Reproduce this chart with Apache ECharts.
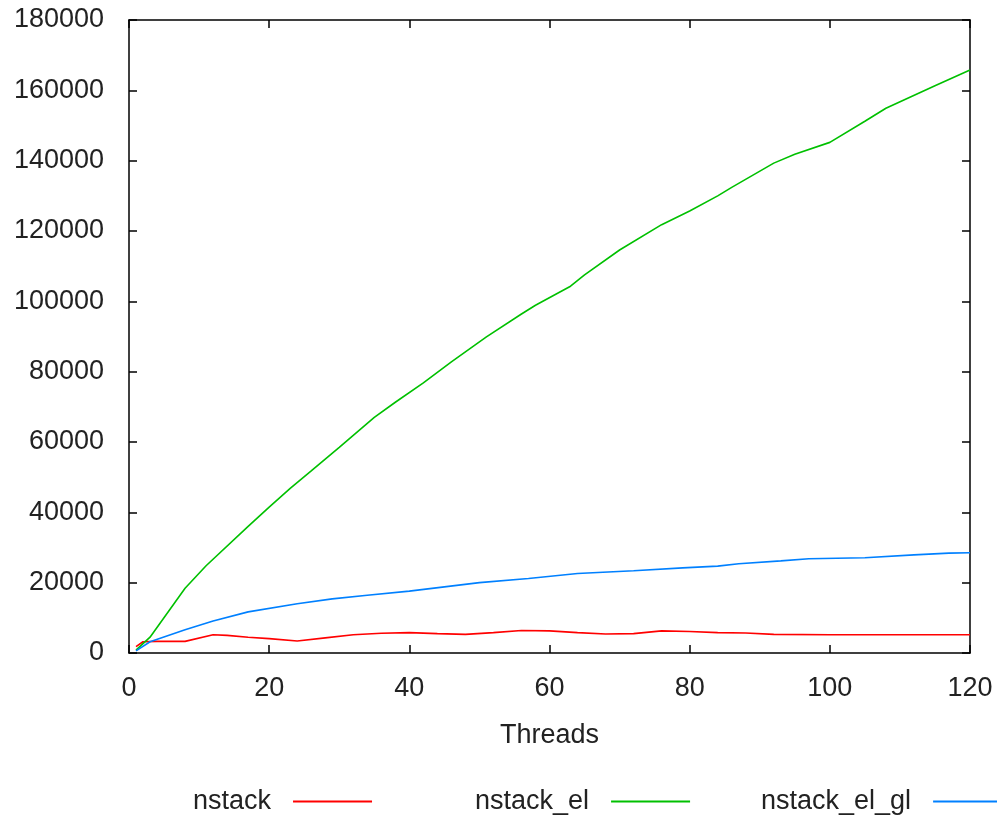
<!DOCTYPE html>
<html>
<head>
<meta charset="utf-8">
<script src="https://cdn.jsdelivr.net/npm/echarts@6/dist/echarts.min.js"></script>
<style>
  html, body { margin: 0; padding: 0; background: #ffffff; }
  #chart { width: 997px; height: 817px; }
</style>
</head>
<body>
<div id="chart"></div>
<script>
// ---- Data ----
const seriesNames = ['nstack', 'nstack_el', 'nstack_el_gl'];

const nstackX = [1, 2, 4, 8, 12, 14, 17, 20, 24, 28, 32, 36, 40, 44, 48, 52, 56, 60, 64, 68, 72, 76, 80, 84, 88, 92, 100, 110, 120];
const nstackY = [1800, 3200, 3300, 3300, 5200, 5000, 4500, 4100, 3400, 4300, 5200, 5600, 5800, 5500, 5300, 5800, 6400, 6300, 5800, 5400, 5500, 6300, 6100, 5800, 5700, 5300, 5200, 5200, 5200];

const nstackElX = [1, 3, 8, 11, 17, 20, 23, 26, 30, 35, 38, 42, 46, 51, 56, 58, 63, 65, 70, 76, 80, 84, 86, 92, 95, 100, 105, 108, 115, 120];
const nstackElY = [800, 4500, 18400, 24800, 36000, 41500, 46800, 51800, 58500, 67000, 71300, 76800, 82800, 89900, 96400, 98900, 104300, 107500, 114600, 121800, 125700, 130000, 132400, 139300, 141800, 145200, 151200, 154900, 161300, 165800];

const nstackElGlX = [1, 3, 8, 12, 17, 24, 29, 34, 40, 45, 50, 57, 64, 72, 79, 84, 87, 93, 97, 105, 112, 117, 120];
const nstackElGlY = [600, 3200, 6600, 9100, 11700, 14000, 15400, 16400, 17600, 18800, 20000, 21200, 22600, 23400, 24200, 24700, 25400, 26200, 26800, 27100, 27900, 28400, 28500];

const xTicks = [0, 20, 40, 60, 80, 100, 120];
const yTicks = [0, 20000, 40000, 60000, 80000, 100000, 120000, 140000, 160000, 180000];
const xAxisTitle = 'Threads';

// ---- Styles ----
const colors = ['#ff0000', '#00c000', '#0080ff'];
const FONT = '"Liberation Sans", Arial, sans-serif';
const TEXT_COLOR = '#222222';
const FS = 27;

function pairs(xs, ys) { return xs.map((x, i) => [x, ys[i]]); }

const chart = echarts.init(document.getElementById('chart'), null, { renderer: 'canvas' });

const axisLineStyle = { show: true, onZero: false, lineStyle: { color: '#000', width: 1.5 } };
const tickStyle = { show: true, inside: true, length: 8, lineStyle: { color: '#000', width: 1.5 } };

const xMin = xTicks[0], xMax = xTicks[xTicks.length - 1];
const xInt = xTicks[1] - xTicks[0];
const yMin = yTicks[0], yMax = yTicks[yTicks.length - 1];
const yInt = yTicks[1] - yTicks[0];

function legendFor(i, left) {
  return {
    data: [seriesNames[i]],
    left: left,
    top: 783,
    orient: 'horizontal',
    align: 'right',
    icon: 'rect',
    itemWidth: 79,
    itemHeight: 2,
    selectedMode: false,
    textStyle: { fontFamily: FONT, fontSize: FS, color: TEXT_COLOR, padding: [0, 17, 0, 0] }
  };
}

const option = {
  animation: false,
  backgroundColor: '#ffffff',
  color: colors,
  grid: { left: 129, right: 27, top: 20, bottom: 164, containLabel: false },
  legend: [legendFor(0, 188), legendFor(1, 470), legendFor(2, 756)],
  xAxis: [
    {
      type: 'value', position: 'bottom', min: xMin, max: xMax, interval: xInt,
      name: xAxisTitle, nameLocation: 'middle', nameGap: 69,
      nameTextStyle: { fontFamily: FONT, fontSize: FS, color: TEXT_COLOR },
      axisLine: axisLineStyle, axisTick: tickStyle,
      axisLabel: { fontFamily: FONT, fontSize: FS, color: TEXT_COLOR, margin: 22, formatter: v => String(v) },
      splitLine: { show: false }
    },
    {
      type: 'value', position: 'top', min: xMin, max: xMax, interval: xInt,
      axisLine: axisLineStyle, axisTick: tickStyle,
      axisLabel: { show: false }, splitLine: { show: false }
    }
  ],
  yAxis: [
    {
      type: 'value', position: 'left', min: yMin, max: yMax, interval: yInt,
      axisLine: axisLineStyle, axisTick: tickStyle,
      axisLabel: { fontFamily: FONT, fontSize: FS, color: TEXT_COLOR, margin: 25, formatter: v => String(v) },
      splitLine: { show: false }
    },
    {
      type: 'value', position: 'right', min: yMin, max: yMax, interval: yInt,
      axisLine: axisLineStyle, axisTick: tickStyle,
      axisLabel: { show: false }, splitLine: { show: false }
    }
  ],
  series: [
    { name: seriesNames[0], type: 'line', data: pairs(nstackX, nstackY), showSymbol: false, symbol: 'none', lineStyle: { width: 1.6, color: colors[0] }, itemStyle: { color: colors[0] } },
    { name: seriesNames[1], type: 'line', data: pairs(nstackElX, nstackElY), showSymbol: false, symbol: 'none', lineStyle: { width: 1.6, color: colors[1] }, itemStyle: { color: colors[1] } },
    { name: seriesNames[2], type: 'line', data: pairs(nstackElGlX, nstackElGlY), showSymbol: false, symbol: 'none', lineStyle: { width: 1.6, color: colors[2] }, itemStyle: { color: colors[2] } }
  ]
};

chart.setOption(option);
</script>
</body>
</html>
